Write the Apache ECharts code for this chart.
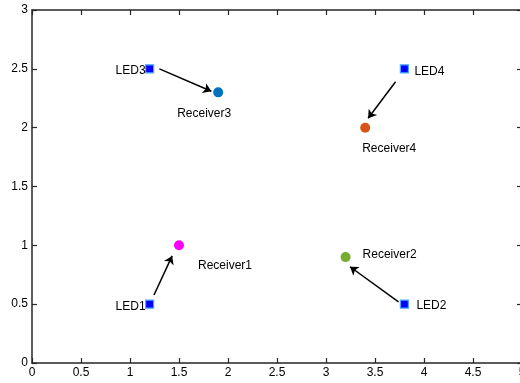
<!DOCTYPE html>
<html>
<head>
<meta charset="utf-8">
<script src="https://cdn.jsdelivr.net/npm/echarts@6/dist/echarts.min.js"></script>
<style>
html,body{margin:0;padding:0;background:#fff;overflow:hidden;width:520px;height:383px;}
#wrap{width:520px;height:383px;overflow:hidden;position:relative;}
#c{width:524px;height:383px;position:absolute;left:0;top:0;}
</style>
</head>
<body>
<div id="wrap"><div id="c"></div></div>
<script>
// ---- data ----
const ledNames = ['LED1', 'LED2', 'LED3', 'LED4'];
const ledX = [1.2, 3.8, 1.2, 3.8];
const ledY = [0.5, 0.5, 2.5, 2.5];

const rxNames = ['Receiver1', 'Receiver2', 'Receiver3', 'Receiver4'];
const rxX = [1.5, 3.2, 1.9, 3.4];
const rxY = [1.0, 0.9, 2.3, 2.0];

// arrows (LED -> receiver), start and end points in data units
const arrowStartX = [1.245, 3.74, 1.30, 3.71];
const arrowStartY = [0.578, 0.52, 2.50, 2.39];
const arrowEndX = [1.43, 3.245, 1.83, 3.43];
const arrowEndY = [0.91, 0.818, 2.31, 2.08];

const xMin = 0, xMax = 5, xStep = 0.5;
const yMin = 0, yMax = 3, yStep = 0.5;

// ---- styles ----
const rxColors = ['#ff00ff', '#77ac30', '#0072bd', '#d95319'];
const ledLabelStyle = [
  { align: 'right', offset: [-4, 3] },
  { align: 'left', offset: [12, 2] },
  { align: 'right', offset: [-4, 2] },
  { align: 'left', offset: [10, 3] }
];
const rxLabelStyle = [
  { align: 'left', offset: [19, 20] },
  { align: 'left', offset: [17, -2] },
  { align: 'center', offset: [-14, 21] },
  { align: 'left', offset: [-3, 21] }
];
const FONT = '"Liberation Sans", Arial, Helvetica, sans-serif';
const axisColor = '#262626';

function labelCfg(s) {
  return {
    show: true, position: 'inside', formatter: '{b}',
    align: s.align, verticalAlign: 'middle', offset: s.offset,
    color: '#000', fontSize: 12, fontFamily: FONT, textBorderWidth: 0
  };
}

const ledData = ledNames.map((n, i) => ({
  name: n, value: [ledX[i], ledY[i]], label: labelCfg(ledLabelStyle[i])
}));
const rxData = rxNames.map((n, i) => ({
  name: n, value: [rxX[i], rxY[i]],
  itemStyle: { color: rxColors[i], opacity: 1 },
  label: labelCfg(rxLabelStyle[i])
}));
const arrowData = arrowStartX.map((x, i) => ({
  coords: [[x, arrowStartY[i]], [arrowEndX[i], arrowEndY[i]]]
}));

function xAx(pos, showLabel) {
  return {
    type: 'value', position: pos, min: xMin, max: xMax, interval: xStep,
    axisLine: { show: true, onZero: false, lineStyle: { color: axisColor, width: 1.5 } },
    axisTick: { show: true, inside: true, length: 5, lineStyle: { color: axisColor, width: 1.2 } },
    axisLabel: { show: showLabel, color: '#000', fontSize: 12, fontFamily: FONT, margin: 4 },
    splitLine: { show: false }
  };
}
function yAx(pos, showLabel) {
  return {
    type: 'value', position: pos, min: yMin, max: yMax, interval: yStep,
    axisLine: { show: true, onZero: false, lineStyle: { color: axisColor, width: 1.5 } },
    axisTick: { show: true, inside: true, length: 5, lineStyle: { color: axisColor, width: 1.2 } },
    axisLabel: { show: showLabel, color: '#000', fontSize: 12, fontFamily: FONT, margin: 4 },
    splitLine: { show: false }
  };
}

const chart = echarts.init(document.getElementById('c'), null, { renderer: 'canvas', width: 524, height: 383 });
chart.setOption({
  animation: false,
  backgroundColor: '#fff',
  grid: { left: 32, right: 2, top: 10, bottom: 20, containLabel: false, outerBoundsMode: 'none' },
  xAxis: [xAx('bottom', true), xAx('top', false)],
  yAxis: [yAx('left', true), yAx('right', false)],
  series: [
    {
      type: 'lines', coordinateSystem: 'cartesian2d', xAxisIndex: 0, yAxisIndex: 0,
      symbol: ['none', 'arrow'], symbolSize: [0, 8],
      lineStyle: { color: '#000', width: 1.5, opacity: 1 },
      data: arrowData, z: 3
    },
    {
      type: 'scatter', name: 'LED', xAxisIndex: 0, yAxisIndex: 0,
      symbol: 'rect', symbolSize: 8,
      itemStyle: { color: '#0000ff', borderColor: '#4aa8ff', borderWidth: 1.2, opacity: 1 },
      data: ledData, z: 4
    },
    {
      type: 'scatter', name: 'Receiver', xAxisIndex: 0, yAxisIndex: 0,
      symbol: 'circle', symbolSize: 10,
      itemStyle: { opacity: 1 },
      data: rxData, z: 4
    }
  ]
});
</script>
</body>
</html>
